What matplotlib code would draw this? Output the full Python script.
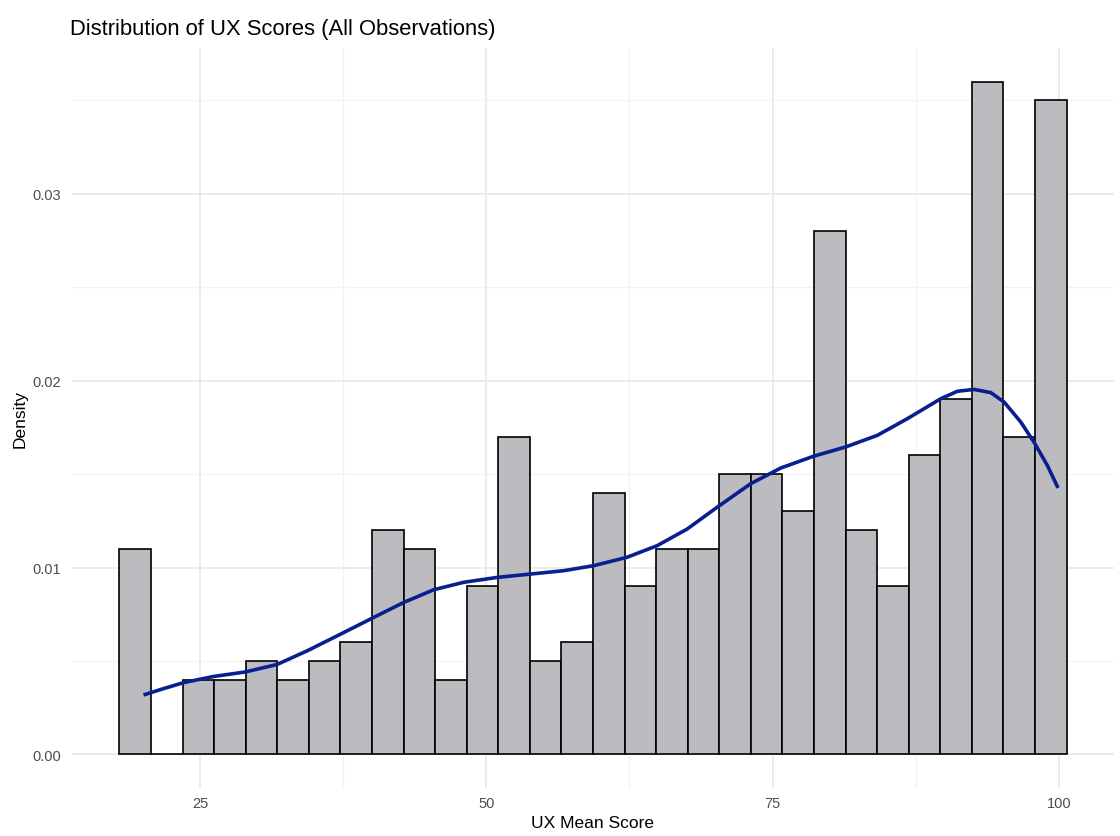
import numpy as np
import matplotlib
matplotlib.use("Agg")
import matplotlib.pyplot as plt
from matplotlib.ticker import MultipleLocator, FormatStrFormatter

# histogram densities, one value per bin (30 bins)
densities = [0.011, 0.000, 0.004, 0.004, 0.005, 0.004, 0.005, 0.006, 0.012, 0.011,
             0.004, 0.009, 0.017, 0.005, 0.006, 0.014, 0.009, 0.011, 0.011, 0.015,
             0.015, 0.013, 0.028, 0.012, 0.009, 0.016, 0.019, 0.036, 0.017, 0.035]

# kernel density estimate
kde_x = [20.04, 21.79, 23.54, 26.16, 28.93, 31.70, 34.33, 37.24, 39.86, 42.77,
         45.39, 48.02, 50.94, 53.85, 56.76, 59.38, 62.30, 64.92, 67.54, 70.17,
         73.08, 75.70, 78.61, 81.38, 84.15, 86.77, 89.69, 91.15, 92.60, 94.06,
         95.22, 96.68, 97.84, 99.01, 99.94]
kde_y = [0.00318, 0.00352, 0.00384, 0.00417, 0.00441, 0.00481, 0.00554, 0.00643,
         0.00724, 0.00813, 0.00881, 0.00921, 0.00947, 0.00965, 0.00983, 0.01010,
         0.01055, 0.01117, 0.01206, 0.01323, 0.01448, 0.01532, 0.01596, 0.01645,
         0.01707, 0.01796, 0.01903, 0.01943, 0.01953, 0.01936, 0.01886, 0.01779,
         0.01671, 0.01546, 0.01426]

score_min, score_max = 20, 100
n_bins = len(densities)
bin_w = (score_max - score_min) / (n_bins - 1)
edges = bin_w / 2 + bin_w * np.arange(6, 6 + n_bins + 1)

plt.rcParams['font.family'] = ['Liberation Sans', 'DejaVu Sans']

fig = plt.figure(figsize=(11.2, 8.37), dpi=100)
ax = fig.add_axes([0.0643, 0.0573, 0.9303, 0.8842])

ax.bar(edges[:-1], densities, width=bin_w, align='edge',
       color='#bbbbc0', edgecolor='black', linewidth=1.2, zorder=2)
ax.plot(kde_x, kde_y, color='#0a1f8f', linewidth=2.6, zorder=3,
        solid_capstyle='butt', solid_joinstyle='round')

span = edges[-1] - edges[0]
ax.set_xlim(edges[0] - 0.05 * span, edges[-1] + 0.05 * span)
ymax = max(densities)
ax.set_ylim(-0.05 * ymax, ymax * 1.05)

ax.xaxis.set_major_locator(MultipleLocator(25))
ax.xaxis.set_minor_locator(MultipleLocator(12.5))
ax.yaxis.set_major_locator(MultipleLocator(0.01))
ax.yaxis.set_minor_locator(MultipleLocator(0.005))
ax.yaxis.set_major_formatter(FormatStrFormatter('%.2f'))

ax.grid(which='major', color='#ebebeb', linewidth=1.4, zorder=0)
ax.grid(which='minor', color='#f2f2f2', linewidth=0.9, zorder=0)
ax.set_axisbelow(True)
for s in ax.spines.values():
    s.set_visible(False)
ax.tick_params(which='both', length=0, labelsize=10.5, labelcolor='#4d4d4d')
ax.tick_params(axis='x', pad=6)
ax.tick_params(axis='y', pad=8)

ax.set_xlabel('UX Mean Score', fontsize=12.5, labelpad=3)
ax.set_ylabel('Density', fontsize=12.5, labelpad=3)
fig.text(0.0625, 0.965, 'Distribution of UX Scores (All Observations)',
         fontsize=15.8, ha='left', va='center')

fig.savefig('out.png', dpi=100)
